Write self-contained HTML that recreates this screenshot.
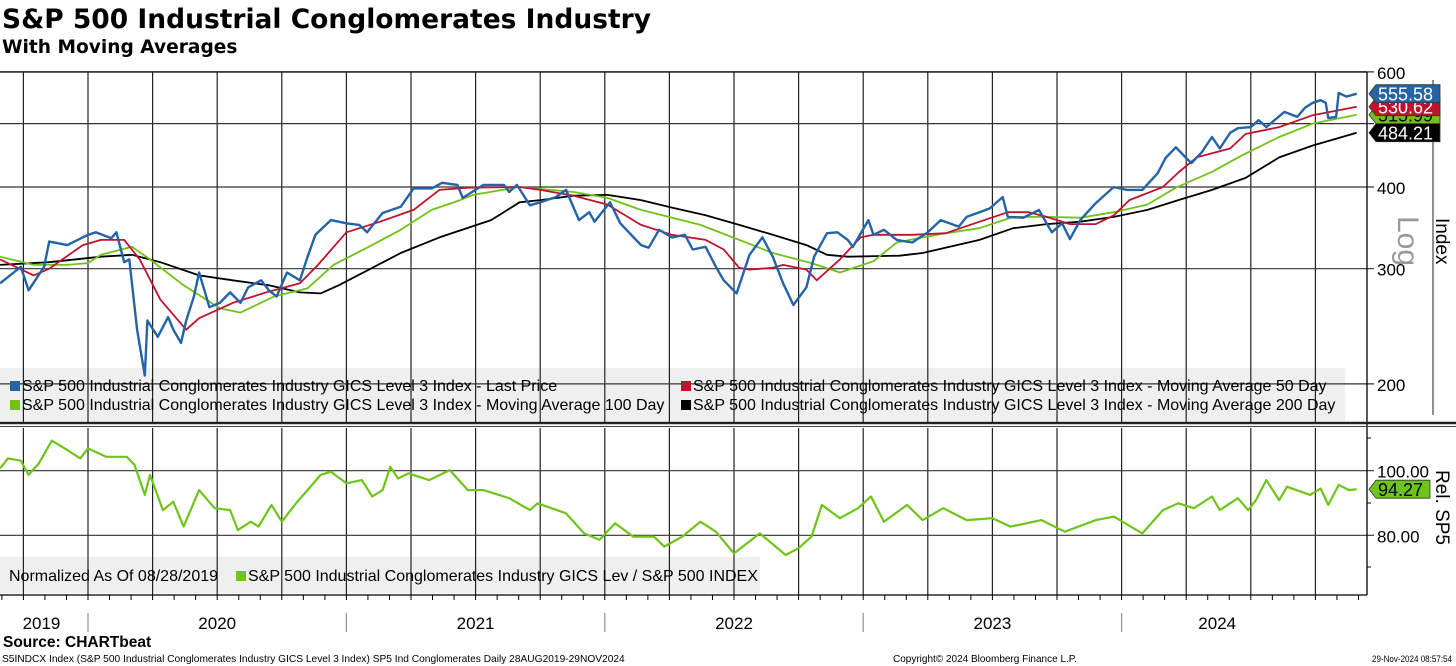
<!DOCTYPE html>
<html><head><meta charset="utf-8">
<style>
html,body{margin:0;padding:0;background:#fff;}
body{width:1456px;height:666px;overflow:hidden;position:relative;font-family:"Liberation Sans","DejaVu Sans",sans-serif;}
svg{position:absolute;left:0;top:0;}
</style></head>
<body>
<svg id="chart" width="1456" height="666" viewBox="0 0 1456 666" xmlns="http://www.w3.org/2000/svg" font-family="Liberation Sans, DejaVu Sans, sans-serif">
  <text x="2" y="28" font-size="26.5" font-weight="bold" font-family="DejaVu Sans, sans-serif" fill="#000">S&amp;P 500 Industrial Conglomerates Industry</text>
  <text x="2" y="53" font-size="18.6" font-weight="bold" font-family="DejaVu Sans, sans-serif" fill="#000">With Moving Averages</text>
  <g id="layer-bg"></g>
  <g id="layer-grid"></g>
  <g id="layer-series"></g>
  <g id="layer-fg"></g>
</svg>
<script>
// ---- Top panel data (decimal year, index value) ----
const priceDates=[2019.66,2019.74,2019.77,2019.83,2019.85,2019.92,2020.00,2020.03,2020.09,2020.11,2020.14,2020.16,2020.19,2020.22,2020.23,2020.27,2020.31,2020.33,2020.36,2020.38,2020.41,2020.43,2020.47,2020.51,2020.55,2020.59,2020.62,2020.67,2020.70,2020.73,2020.77,2020.82,2020.85,2020.88,2020.94,2021.00,2021.05,2021.08,2021.14,2021.21,2021.26,2021.33,2021.37,2021.43,2021.45,2021.53,2021.61,2021.63,2021.66,2021.71,2021.75,2021.81,2021.85,2021.90,2021.94,2021.96,2022.02,2022.06,2022.14,2022.17,2022.21,2022.26,2022.31,2022.34,2022.39,2022.43,2022.46,2022.51,2022.56,2022.61,2022.65,2022.69,2022.73,2022.78,2022.81,2022.86,2022.90,2022.94,2022.96,2023.02,2023.04,2023.08,2023.13,2023.19,2023.25,2023.30,2023.37,2023.40,2023.45,2023.49,2023.54,2023.56,2023.62,2023.68,2023.73,2023.77,2023.80,2023.84,2023.90,2023.97,2024.02,2024.08,2024.14,2024.17,2024.21,2024.25,2024.27,2024.31,2024.35,2024.38,2024.42,2024.45,2024.50,2024.53,2024.56,2024.63,2024.68,2024.71,2024.74,2024.77,2024.79,2024.80,2024.83,2024.84,2024.87,2024.91];
const priceValues=[285,302,278,302,330,326,338,341,334,341,307,310,242,206,250,236,253,242,231,250,272,296,262,266,276,266,281,288,278,272,296,288,313,338,356,352,350,341,365,373,398,398,406,403,385,403,403,393,403,375,379,386,396,356,366,354,379,352,326,323,344,335,338,321,324,302,288,275,315,335,313,285,264,281,313,340,341,332,324,356,338,344,332,329,341,356,348,360,366,371,386,360,359,369,341,352,333,356,378,400,396,396,420,443,460,443,435,452,477,458,484,492,494,506,494,521,512,529,538,543,538,510,512,557,550,555.58];
const ma50Dates=[2019.66,2019.79,2019.85,2019.98,2020.05,2020.14,2020.20,2020.28,2020.38,2020.43,2020.56,2020.69,2020.82,2020.89,2021.00,2021.13,2021.26,2021.36,2021.47,2021.67,2021.75,2021.88,2022.01,2022.14,2022.26,2022.39,2022.46,2022.52,2022.56,2022.65,2022.69,2022.78,2022.82,2022.91,2022.99,2023.04,2023.19,2023.32,2023.45,2023.56,2023.64,2023.71,2023.80,2023.90,2023.97,2024.03,2024.16,2024.22,2024.29,2024.42,2024.48,2024.61,2024.74,2024.91];
const ma50Values=[310,293,300,326,332,332,310,269,242,252,266,276,285,304,341,354,369,396,399,400,396,388,376,350,338,332,321,301,299,301,304,299,288,310,335,338,338,340,354,366,366,360,351,351,362,382,400,421,444,458,482,494,515,530.62];
const ma100Dates=[2019.66,2019.79,2019.92,2020.00,2020.05,2020.17,2020.24,2020.37,2020.51,2020.59,2020.72,2020.85,2020.95,2021.08,2021.21,2021.33,2021.44,2021.49,2021.67,2021.88,2022.01,2022.14,2022.37,2022.52,2022.65,2022.80,2022.91,2023.04,2023.13,2023.23,2023.32,2023.45,2023.58,2023.71,2023.84,2023.97,2024.10,2024.21,2024.35,2024.47,2024.61,2024.74,2024.91];
const ma100Values=[313,304,304,306,315,324,310,283,261,257,272,280,304,323,344,369,382,389,400,393,385,369,350,332,317,306,296,308,329,335,340,346,360,360,359,366,376,399,422,448,477,500,515.9];
const ma200Dates=[2019.66,2019.85,2020.05,2020.17,2020.28,2020.43,2020.56,2020.70,2020.82,2020.90,2020.97,2021.08,2021.21,2021.36,2021.56,2021.67,2021.75,2021.88,2022.01,2022.14,2022.26,2022.39,2022.52,2022.65,2022.78,2022.86,2022.94,2023.14,2023.23,2023.45,2023.58,2023.71,2023.84,2023.97,2024.10,2024.22,2024.35,2024.48,2024.61,2024.74,2024.91];
const ma200Values=[304,307,313,315,307,293,288,283,276,275,283,298,317,335,356,379,382,388,389,382,372,362,350,338,326,315,313,314,317,332,346,351,354,360,369,382,396,413,444,463,484.21];
// ---- Bottom panel data (relative to SP5, normalized) ----
const relDates=[2019.66,2019.69,2019.74,2019.77,2019.81,2019.86,2019.92,2019.97,2020.00,2020.07,2020.15,2020.18,2020.22,2020.24,2020.29,2020.33,2020.37,2020.43,2020.49,2020.55,2020.58,2020.63,2020.66,2020.71,2020.75,2020.81,2020.85,2020.90,2020.94,2021.00,2021.06,2021.10,2021.14,2021.17,2021.20,2021.24,2021.32,2021.40,2021.47,2021.53,2021.63,2021.71,2021.74,2021.85,2021.92,2021.98,2022.04,2022.11,2022.19,2022.23,2022.30,2022.37,2022.43,2022.50,2022.60,2022.70,2022.75,2022.80,2022.84,2022.91,2022.98,2023.03,2023.08,2023.17,2023.23,2023.31,2023.40,2023.50,2023.57,2023.69,2023.78,2023.90,2023.97,2024.08,2024.16,2024.22,2024.28,2024.35,2024.38,2024.45,2024.49,2024.52,2024.56,2024.61,2024.64,2024.73,2024.77,2024.80,2024.84,2024.88,2024.91];
const relValues=[100.7,103.8,103.1,98.7,102.3,109.3,106.4,103.8,106.9,104.3,104.3,101.8,92.5,98.7,87.8,90.4,82.7,94.0,88.4,87.8,81.6,84.2,82.7,89.4,84.2,90.4,94.0,98.7,99.7,96.1,97.1,92.0,94.0,101.2,97.6,99.2,97.1,100.2,94.0,94.0,91.5,87.8,89.9,86.8,80.6,78.6,83.7,79.6,79.6,76.5,79.6,84.2,81.1,74.4,80.6,73.9,76.0,79.6,89.4,85.3,88.4,92.0,84.2,89.4,84.7,88.4,84.7,85.3,82.7,84.7,81.1,84.7,85.8,80.6,87.8,89.9,88.4,92.0,87.8,91.5,87.8,90.9,97.1,90.9,95.0,92.5,94.5,89.4,95.6,94.0,94.27];
const topTicks=[600,500,400,300,200];
const topTickLabels=["600","","400","300","200"];
const relTicks=[100,80];
const relTickLabels=["100.00","80.00"];
const yearLabels=["2019","2020","2021","2022","2023","2024"];
const yearLabelPos=[2019.82,2020.5,2021.5,2022.5,2023.5,2024.37];

const NS="http://www.w3.org/2000/svg";
const PL=0, PR=1367;
function X(t){return 88+(t-2020)*258.4;}
function YT(v){return 187-284*Math.log(v/400);}
function YB(v){return 470.7-(v-100)*3.23;}
function mk(tag,attrs,parent){const e=document.createElementNS(NS,tag);for(const k in attrs)e.setAttribute(k,attrs[k]);parent.appendChild(e);return e;}
const bg=document.getElementById('layer-bg'),grid=document.getElementById('layer-grid'),ser=document.getElementById('layer-series'),fg=document.getElementById('layer-fg');

let r=mk('rect',{x:0,y:368,width:1345,height:53,fill:'#efefef'},bg);


r=mk('rect',{x:0,y:557,width:760,height:36,fill:'#efefef'},bg);



for(let q=-1;q<=19;q++){
  const x=88+q*64.6;
  let l=mk('line',{x1:x,x2:x,y1:72,y2:422,stroke:'#222','stroke-width':1.2},grid);
  
  
  l=mk('line',{x1:x,x2:x,y1:428,y2:595,stroke:'#222','stroke-width':1.2},grid);
  
  
}
topTicks.forEach((v,i)=>{
  const y=YT(v);
  let l=mk('line',{x1:PL,x2:PR+7,y1:y,y2:y,stroke:'#333','stroke-width':1.2},grid);
  
  
  if(topTickLabels[i]){
    const t=mk('text',{x:1377,y:y+7,'font-size':17,fill:'#000'},fg);
    t.textContent=topTickLabels[i];
    
    
  }
});
relTicks.forEach((v,i)=>{
  const y=YB(v);
  let l=mk('line',{x1:PL,x2:PR+7,y1:y,y2:y,stroke:'#333','stroke-width':1.2},grid);
  
  
  const t=mk('text',{x:1377,y:y+7,'font-size':17,fill:'#000'},fg);
  t.textContent=relTickLabels[i];
  
  
});
[438,503,567].forEach(y=>{let l=mk('line',{x1:PR,x2:PR+4,y1:y,y2:y,stroke:'#000'},grid);
  
  });

function path(dates,vals,yf,color,w,name){
  let d='';dates.forEach((t,i)=>{d+=(i?'L':'M')+X(t).toFixed(1)+' '+yf(vals[i]).toFixed(1);});
  const p=mk('path',{d:d,fill:'none',stroke:color,'stroke-width':w,'stroke-linejoin':'round'},ser);
  
  
}
path(ma200Dates,ma200Values,YT,'#000',1.8,'ma200-line');
path(ma100Dates,ma100Values,YT,'#72c11a',1.8,'ma100-line');
path(ma50Dates,ma50Values,YT,'#c0122c',1.8,'ma50-line');
path(priceDates,priceValues,YT,'#2463a6',2.4,'last-price-line');
path(relDates,relValues,YB,'#6fc41a',2.2,'relative-line');

function ln(a,name,c,w){const l=mk('line',Object.assign({stroke:c||'#000','stroke-width':w||1.3},a),fg);}
ln({x1:0,x2:PR,y1:72,y2:72},'top-border');
ln({x1:PR,x2:PR,y1:72,y2:595},'right-axis');
ln({x1:0,x2:1456,y1:423,y2:423},'panel-separator','#222',2.5);
ln({x1:0,x2:1456,y1:426.5,y2:426.5},'panel-separator-2','#444',1);
ln({x1:0,x2:PR,y1:595,y2:595},'x-axis');
ln({x1:1433,x2:1433,y1:80,y2:415},'index-axis-rule','#555',1.3);
for(let m=-4;m<=63;m++){const x=88+m*258.4/12;if(x<0||x>PR)continue;
  const l=mk('line',{x1:x,x2:x,y1:595,y2:600,stroke:'#000','stroke-width':1},fg);
  
  }
[2020,2021,2022,2023,2024].forEach(yr=>{const x=X(yr);
  const l=mk('line',{x1:x,x2:x,y1:613,y2:632,stroke:'#999','stroke-width':1.3},fg);
  
  });
yearLabels.forEach((s,i)=>{const t=mk('text',{x:X(yearLabelPos[i]),y:629,'font-size':17,'text-anchor':'middle',fill:'#000'},fg);
  t.textContent=s;
  
  });

function tag(y,label,bgc,fc,name,w){
  const g=mk('g',{},fg);
  
  
  mk('path',{d:`M1369 ${y} L1376 ${y-9} L${1376+w} ${y-9} L${1376+w} ${y+9} L1376 ${y+9} Z`,fill:bgc,stroke:'#333','stroke-width':0.8},g);
  const t=mk('text',{x:1378,y:y+7,'font-size':18,fill:fc},g);t.textContent=label;
}
tag(YT(515.9),'515.99','#72c11a','#000','ma100-value-tag',64);
tag(YT(530.62),'530.62','#c0122c','#fff','ma50-value-tag',64);
tag(YT(555.58),'555.58','#2463a6','#fff','last-price-value-tag',64);
tag(YT(484.21),'484.21','#000','#fff','ma200-value-tag',64);
tag(YB(94.27),'94.27','#6fc41a','#000','relative-value-tag',54);

function rot(x,y,s,size,color,name){const t=mk('text',{x:x,y:y,'font-size':size,fill:color,transform:`rotate(90 ${x} ${y})`},fg);t.textContent=s;}
rot(1398,216,'Log',30,'#999','log-scale-label');
rot(1436,218,'Index',19,'#000','y-axis-title');
rot(1436,470,'Rel. SP5',19,'#000','rel-axis-title');

function leg(x,y,color,s,name){
  const g=mk('g',{},fg);
  
  
  mk('rect',{x:x,y:y-10,width:10,height:10,fill:color},g);
  const t=mk('text',{x:x+12,y:y,'font-size':16,fill:'#000'},g);t.textContent=s;
}
leg(10,391,'#2463a6','S&P 500 Industrial Conglomerates Industry GICS Level 3 Index - Last Price','legend-last-price');
leg(681,391,'#c0122c','S&P 500 Industrial Conglomerates Industry GICS Level 3 Index - Moving Average 50 Day','legend-ma50');
leg(10,410,'#72c11a','S&P 500 Industrial Conglomerates Industry GICS Level 3 Index - Moving Average 100 Day','legend-ma100');
leg(681,410,'#000','S&P 500 Industrial Conglomerates Industry GICS Level 3 Index - Moving Average 200 Day','legend-ma200');
let t=mk('text',{x:9,y:581,'font-size':16,fill:'#000'},fg);t.textContent='Normalized As Of 08/28/2019';


leg(236,581,'#6fc41a','S&P 500 Industrial Conglomerates Industry GICS Lev / S&P 500 INDEX','legend-relative');

t=mk('text',{x:3,y:647,'font-size':15.5,'font-weight':'bold',fill:'#000'},fg);t.textContent='Source: CHARTbeat';


t=mk('text',{x:2,y:662,'font-size':10.2,fill:'#000'},fg);t.textContent='S5INDCX Index (S&P 500 Industrial Conglomerates Industry GICS Level 3 Index) SP5 Ind Conglomerates  Daily 28AUG2019-29NOV2024';


t=mk('text',{x:893,y:662,'font-size':10,fill:'#000'},fg);t.textContent='Copyright\u00a9 2024 Bloomberg Finance L.P.';


t=mk('text',{x:1372,y:662,'font-size':9.5,fill:'#000',textLength:80,lengthAdjust:'spacingAndGlyphs'},fg);t.textContent='29-Nov-2024 08:57:54';


</script>
</body></html>
